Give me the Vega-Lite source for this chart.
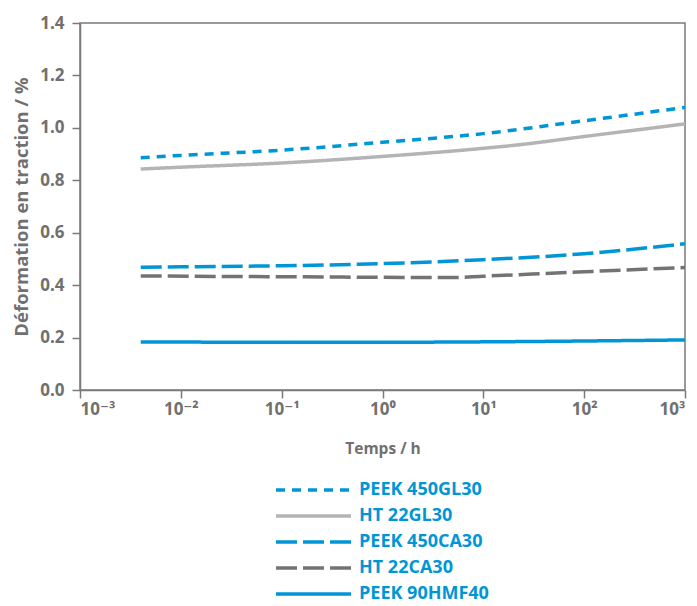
{
  "$schema": "https://vega.github.io/schema/vega-lite/v6.json",
  "autosize": {"type": "none"},
  "padding": {"left": 80, "top": 23, "right": 12, "bottom": 216},
  "width": 605,
  "height": 367,
  "background": "white",
  "config": {
    "font": "Open Sans, DejaVu Sans",
    "view": {"stroke": "#7a7a7a", "strokeWidth": 1.5},
    "axis": {
      "grid": false,
      "domainColor": "#7a7a7a",
      "domainWidth": 1.5,
      "tickColor": "#7a7a7a",
      "tickWidth": 1.5,
      "tickSize": 8,
      "labelFont": "Open Sans, DejaVu Sans",
      "labelFontWeight": "bold",
      "labelFontSize": 17,
      "labelColor": "#707070",
      "titleFont": "Open Sans, DejaVu Sans",
      "titleFontWeight": "bold",
      "titleColor": "#707070"
    }
  },
  "data": {
    "values": [
      {"series": "PEEK 450GL30", "t": 0.004, "v": 0.886},
      {"series": "PEEK 450GL30", "t": 0.01, "v": 0.895},
      {"series": "PEEK 450GL30", "t": 0.1, "v": 0.915},
      {"series": "PEEK 450GL30", "t": 1, "v": 0.945},
      {"series": "PEEK 450GL30", "t": 10, "v": 0.978},
      {"series": "PEEK 450GL30", "t": 100, "v": 1.027},
      {"series": "PEEK 450GL30", "t": 1000, "v": 1.078},
      {"series": "HT 22GL30", "t": 0.004, "v": 0.843},
      {"series": "HT 22GL30", "t": 0.01, "v": 0.850},
      {"series": "HT 22GL30", "t": 0.1, "v": 0.866},
      {"series": "HT 22GL30", "t": 1, "v": 0.891},
      {"series": "HT 22GL30", "t": 10, "v": 0.922},
      {"series": "HT 22GL30", "t": 22, "v": 0.935},
      {"series": "HT 22GL30", "t": 100, "v": 0.967},
      {"series": "HT 22GL30", "t": 1000, "v": 1.015},
      {"series": "PEEK 450CA30", "t": 0.004, "v": 0.468},
      {"series": "PEEK 450CA30", "t": 0.01, "v": 0.470},
      {"series": "PEEK 450CA30", "t": 0.1, "v": 0.474},
      {"series": "PEEK 450CA30", "t": 1, "v": 0.482},
      {"series": "PEEK 450CA30", "t": 10, "v": 0.497},
      {"series": "PEEK 450CA30", "t": 100, "v": 0.520},
      {"series": "PEEK 450CA30", "t": 1000, "v": 0.558},
      {"series": "HT 22CA30", "t": 0.004, "v": 0.435},
      {"series": "HT 22CA30", "t": 0.1, "v": 0.432},
      {"series": "HT 22CA30", "t": 1, "v": 0.430},
      {"series": "HT 22CA30", "t": 5, "v": 0.429},
      {"series": "HT 22CA30", "t": 10, "v": 0.434},
      {"series": "HT 22CA30", "t": 100, "v": 0.451},
      {"series": "HT 22CA30", "t": 1000, "v": 0.467},
      {"series": "PEEK 90HMF40", "t": 0.004, "v": 0.183},
      {"series": "PEEK 90HMF40", "t": 1, "v": 0.182},
      {"series": "PEEK 90HMF40", "t": 5, "v": 0.183},
      {"series": "PEEK 90HMF40", "t": 1000, "v": 0.191}
    ]
  },
  "mark": {"type": "line", "strokeWidth": 3.5, "interpolate": "monotone", "clip": true},
  "encoding": {
    "x": {
      "field": "t",
      "type": "quantitative",
      "scale": {"type": "log", "domain": [0.001, 1000], "nice": false},
      "axis": {
        "title": "Temps / h",
        "titleFontSize": 15.5,
        "values": [0.001, 0.01, 0.1, 1, 10, 100, 1000],
        "labelExpr": "'10' + ['⁻³','⁻²','⁻¹','⁰','¹','²','³'][round(log(datum.value)/LN10)+3]",
        "labelPadding": 3,
        "titlePadding": 24
      }
    },
    "y": {
      "field": "v",
      "type": "quantitative",
      "scale": {"domain": [0, 1.4], "nice": false},
      "axis": {
        "title": "Déformation en traction / %",
        "titleFontSize": 18.5,
        "values": [0, 0.2, 0.4, 0.6, 0.8, 1.0, 1.2, 1.4],
        "format": ".1f",
        "labelPadding": 8,
        "titlePadding": 8
      }
    },
    "color": {
      "field": "series",
      "type": "nominal",
      "scale": {
        "domain": ["PEEK 450GL30", "HT 22GL30", "PEEK 450CA30", "HT 22CA30", "PEEK 90HMF40"],
        "range": ["#0096d6", "#b4b4b6", "#0096d6", "#737373", "#0096d6"]
      },
      "legend": {
        "title": null,
        "orient": "none",
        "legendX": 187,
        "legendY": 458,
        "symbolType": "M0,0H12.5",
        "symbolSize": 144,
        "symbolStrokeWidth": 3.5,
        "labelFont": "Open Sans, DejaVu Sans",
        "labelFontWeight": "bold",
        "labelFontSize": 18,
        "labelColor": "#0096d6",
        "rowPadding": 8,
        "labelOffset": 74
      }
    },
    "strokeDash": {
      "field": "series",
      "type": "nominal",
      "scale": {
        "domain": ["PEEK 450GL30", "HT 22GL30", "PEEK 450CA30", "HT 22CA30", "PEEK 90HMF40"],
        "range": [[9, 7], [1, 0], [21, 6], [21, 6], [1, 0]]
      }
    }
  }
}
